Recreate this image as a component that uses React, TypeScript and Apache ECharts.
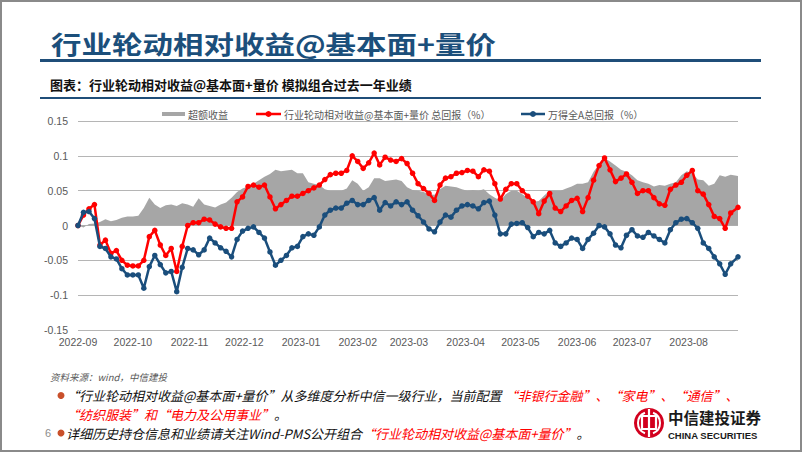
import React, { useEffect, useRef } from "react";
import * as echarts from "echarts";

// Sample dates (every third calendar day)
const dates = [
  "2022-09-01", "2022-09-04", "2022-09-07", "2022-09-10", "2022-09-13", "2022-09-16", "2022-09-19", "2022-09-22", "2022-09-25", "2022-09-28",
  "2022-10-01", "2022-10-04", "2022-10-07", "2022-10-10", "2022-10-13", "2022-10-16", "2022-10-19", "2022-10-22", "2022-10-25", "2022-10-28", "2022-10-31",
  "2022-11-03", "2022-11-06", "2022-11-09", "2022-11-12", "2022-11-15", "2022-11-18", "2022-11-21", "2022-11-24", "2022-11-27", "2022-11-30",
  "2022-12-03", "2022-12-06", "2022-12-09", "2022-12-12", "2022-12-15", "2022-12-18", "2022-12-21", "2022-12-24", "2022-12-27", "2022-12-30",
  "2023-01-02", "2023-01-05", "2023-01-08", "2023-01-11", "2023-01-14", "2023-01-17", "2023-01-20", "2023-01-23", "2023-01-26", "2023-01-29",
  "2023-02-01", "2023-02-04", "2023-02-07", "2023-02-10", "2023-02-13", "2023-02-16", "2023-02-19", "2023-02-22", "2023-02-25", "2023-02-28",
  "2023-03-03", "2023-03-06", "2023-03-09", "2023-03-12", "2023-03-15", "2023-03-18", "2023-03-21", "2023-03-24", "2023-03-27", "2023-03-30",
  "2023-04-02", "2023-04-05", "2023-04-08", "2023-04-11", "2023-04-14", "2023-04-17", "2023-04-20", "2023-04-23", "2023-04-26", "2023-04-29",
  "2023-05-02", "2023-05-05", "2023-05-08", "2023-05-11", "2023-05-14", "2023-05-17", "2023-05-20", "2023-05-23", "2023-05-26", "2023-05-29",
  "2023-06-01", "2023-06-04", "2023-06-07", "2023-06-10", "2023-06-13", "2023-06-16", "2023-06-19", "2023-06-22", "2023-06-25", "2023-06-28",
  "2023-07-01", "2023-07-04", "2023-07-07", "2023-07-10", "2023-07-13", "2023-07-16", "2023-07-19", "2023-07-22", "2023-07-25", "2023-07-28", "2023-07-31",
  "2023-08-03", "2023-08-06", "2023-08-09", "2023-08-12", "2023-08-15", "2023-08-18", "2023-08-21", "2023-08-24", "2023-08-28",
];

// 行业轮动相对收益@基本面+量价 总回报
const strategyReturn = [
  0.000, 0.015, 0.024, 0.030, -0.028, -0.021, -0.040, -0.036, -0.050, -0.057,
  -0.058, -0.058, -0.050, -0.016, -0.007, -0.028, -0.043, -0.033, -0.066, -0.030, 0.000,
  0.004, 0.004, 0.009, 0.008, 0.002, -0.002, -0.004, -0.004, 0.034, 0.041,
  0.056, 0.058, 0.055, 0.058, 0.041, 0.024, 0.030, 0.036, 0.042, 0.042,
  0.046, 0.050, 0.054, 0.058, 0.066, 0.073, 0.075, 0.075, 0.079, 0.100,
  0.092, 0.082, 0.090, 0.104, 0.087, 0.098, 0.094, 0.092, 0.096, 0.089,
  0.075, 0.060, 0.053, 0.046, 0.036, 0.058, 0.068, 0.070, 0.075, 0.076,
  0.079, 0.078, 0.070, 0.080, 0.078, 0.060, 0.038, 0.052, 0.060, 0.060,
  0.050, 0.042, 0.034, 0.017, 0.035, 0.046, 0.025, 0.020, 0.028, 0.036,
  0.039, 0.020, 0.040, 0.065, 0.086, 0.097, 0.080, 0.063, 0.068, 0.074,
  0.062, 0.046, 0.050, 0.050, 0.040, 0.031, 0.029, 0.052, 0.058, 0.062, 0.072,
  0.079, 0.050, 0.045, 0.030, 0.013, 0.010, -0.004, 0.018, 0.026,
];

// 万得全A总回报
const benchmarkReturn = [
  0.000, 0.019, 0.020, 0.010, -0.030, -0.033, -0.045, -0.048, -0.062, -0.071,
  -0.071, -0.071, -0.090, -0.059, -0.043, -0.056, -0.068, -0.066, -0.095, -0.060, -0.033,
  -0.035, -0.042, -0.035, -0.018, -0.025, -0.032, -0.037, -0.045, -0.020, -0.008,
  -0.004, -0.002, -0.010, -0.018, -0.038, -0.057, -0.050, -0.043, -0.032, -0.030,
  -0.016, -0.012, -0.014, -0.002, 0.015, 0.022, 0.025, 0.025, 0.032, 0.036,
  0.030, 0.030, 0.036, 0.040, 0.022, 0.033, 0.028, 0.034, 0.030, 0.034,
  0.022, 0.014, 0.005, -0.005, -0.009, 0.005, 0.015, 0.012, 0.022, 0.028,
  0.030, 0.028, 0.024, 0.033, 0.035, 0.015, -0.012, -0.012, 0.002, 0.003,
  0.004, -0.003, -0.016, -0.010, -0.012, -0.007, -0.025, -0.030, -0.025, -0.018,
  -0.020, -0.033, -0.020, -0.011, 0.000, -0.002, -0.012, -0.028, -0.032, -0.014,
  -0.006, -0.015, -0.017, -0.010, -0.015, -0.020, -0.025, -0.006, 0.004, 0.009, 0.010,
  0.004, -0.004, -0.025, -0.033, -0.045, -0.055, -0.070, -0.055, -0.045,
];

// 超额收益
const excessReturn = [
  0.000, -0.003, 0.002, 0.003, 0.005, 0.009, 0.006, 0.008, 0.011, 0.013,
  0.013, 0.014, 0.025, 0.040, 0.030, 0.025, 0.029, 0.030, 0.028, 0.032, 0.030,
  0.027, 0.039, 0.030, 0.028, 0.026, 0.030, 0.033, 0.040, 0.048, 0.053,
  0.056, 0.060, 0.065, 0.070, 0.074, 0.080, 0.078, 0.079, 0.080, 0.075,
  0.075, 0.062, 0.060, 0.058, 0.052, 0.050, 0.050, 0.050, 0.053, 0.065,
  0.060, 0.050, 0.055, 0.068, 0.068, 0.064, 0.065, 0.066, 0.064, 0.055,
  0.051, 0.050, 0.048, 0.045, 0.044, 0.052, 0.057, 0.056, 0.055, 0.052,
  0.050, 0.051, 0.050, 0.052, 0.045, 0.040, 0.036, 0.045, 0.050, 0.050,
  0.045, 0.040, 0.034, 0.035, 0.043, 0.050, 0.050, 0.050, 0.053, 0.056,
  0.060, 0.060, 0.062, 0.077, 0.088, 0.097, 0.092, 0.086, 0.080, 0.077,
  0.072, 0.065, 0.062, 0.060, 0.056, 0.058, 0.057, 0.060, 0.062, 0.072, 0.078,
  0.075, 0.066, 0.065, 0.057, 0.060, 0.072, 0.070, 0.073, 0.071,
];

const monthLabels = [
  "2022-09", "2022-10", "2022-11", "2022-12", "2023-01", "2023-02",
  "2023-03", "2023-04", "2023-05", "2023-06", "2023-07", "2023-08",
];

const seriesNames = ["超额收益", "行业轮动相对收益@基本面+量价 总回报（%）", "万得全A总回报（%）"];

const titleText = "行业轮动相对收益@基本面+量价";
const subtitleText = "图表：行业轮动相对收益@基本面+量价 模拟组合过去一年业绩";
const sourceText = "资料来源：wind，中信建投";

const toTime = (s: string) => {
  const p = s.split("-").map(Number);
  return new Date(p[0], p[1] - 1, p[2] || 1).getTime();
};
const pairs = (vals: number[]) => dates.map((d, i) => [toTime(d), vals[i]]);
const monthTimes = monthLabels.map(toTime);

const GRAY = "#a6a6a6";
const RED = "#ff0000";
const BLUE = "#1a4e7c";
const NAVY = "#1f4e79";
const LABEL = "#595959";
const CJK = '"Noto Sans CJK SC", sans-serif';
const LATIN = '"Liberation Sans", Arial, sans-serif';

export default function App() {
  const ref = useRef<HTMLDivElement>(null);
  useEffect(() => {
    if (!ref.current) return;
    const chart = echarts.init(ref.current, null, { renderer: "svg" });
    const fmtMonth = (v: number) => {
      let best = 0;
      monthTimes.forEach((t, i) => {
        if (Math.abs(t - v) < Math.abs(monthTimes[best] - v)) best = i;
      });
      return monthLabels[best];
    };
    const legendY = 114;
    const line1Y = 395.5;
    const line2Y = 414;
    const line3Y = 433;
    const richFooter = {
      k: { fill: "#111111", fontSize: 13, fontStyle: "italic", fontFamily: CJK, lineHeight: 15 },
      r: { fill: RED, fontSize: 13, fontStyle: "italic", fontFamily: CJK, lineHeight: 15 },
    };
    const option: any = {
      animation: false,
      grid: { left: 78, right: 64, top: 121, bottom: 122 },
      xAxis: {
        type: "value",
        min: toTime(dates[0]),
        max: toTime(dates[dates.length - 1]),
        axisLine: { show: false },
        axisTick: { show: false },
        splitLine: { show: false },
        axisLabel: {
          customValues: monthTimes,
          formatter: (v: number) => fmtMonth(v),
          color: LABEL,
          fontSize: 10.5,
          fontFamily: LATIN,
          margin: 6,
          hideOverlap: false,
          showMinLabel: true,
          showMaxLabel: true,
        },
      },
      yAxis: {
        type: "value",
        min: -0.15,
        max: 0.15,
        interval: 0.05,
        axisLine: { show: false },
        axisTick: { show: false },
        axisLabel: {
          formatter: (v: number) => String(Math.round(v * 100) / 100),
          color: LABEL,
          fontSize: 10.5,
          fontFamily: LATIN,
          margin: 10,
        },
        splitLine: { lineStyle: { color: "#b5b5b5", width: 1 } },
      },
      series: [
        {
          name: seriesNames[0],
          type: "line",
          data: pairs(excessReturn),
          symbol: "none",
          lineStyle: { width: 0 },
          itemStyle: { color: GRAY },
          areaStyle: { color: GRAY, opacity: 1 },
          z: 1,
        },
        {
          name: seriesNames[1],
          type: "line",
          data: pairs(strategyReturn),
          symbol: "circle",
          symbolSize: 5.5,
          showAllSymbol: true,
          lineStyle: { color: RED, width: 2.5 },
          itemStyle: { color: RED },
          z: 2,
        },
        {
          name: seriesNames[2],
          type: "line",
          data: pairs(benchmarkReturn),
          symbol: "circle",
          symbolSize: 5.5,
          showAllSymbol: true,
          lineStyle: { color: BLUE, width: 2.5 },
          itemStyle: { color: BLUE },
          z: 3,
        },
      ],
      graphic: [
        { type: "rect", silent: true, shape: { x: 1, y: 1, width: 800, height: 450 }, style: { fill: "none", stroke: "#8a8a8a", lineWidth: 2 } },
        {
          type: "text", silent: true, x: 51, y: 43, scaleX: 1.22,
          style: { text: titleText, fill: "#1b4f7b", fontSize: 25, fontWeight: "bold", fontFamily: CJK, verticalAlign: "middle" },
        },
        { type: "rect", silent: true, shape: { x: 40, y: 59, width: 721, height: 3 }, style: { fill: NAVY } },
        {
          type: "text", silent: true, x: 50, y: 84,
          style: { text: subtitleText, fill: "#111111", fontSize: 13, fontWeight: "bold", fontFamily: CJK, verticalAlign: "middle" },
        },
        { type: "rect", silent: true, shape: { x: 40, y: 97, width: 721, height: 2 }, style: { fill: NAVY } },
        { type: "rect", silent: true, shape: { x: 162, y: legendY - 2, width: 23, height: 4 }, style: { fill: GRAY } },
        { type: "text", silent: true, x: 188, y: legendY, style: { text: seriesNames[0], fill: LABEL, fontSize: 10, fontFamily: CJK, verticalAlign: "middle" } },
        { type: "line", silent: true, shape: { x1: 256, y1: legendY, x2: 281, y2: legendY }, style: { stroke: RED, lineWidth: 2.5 } },
        { type: "circle", silent: true, shape: { cx: 268.5, cy: legendY, r: 3 }, style: { fill: RED } },
        { type: "text", silent: true, x: 284, y: legendY, style: { text: seriesNames[1], fill: LABEL, fontSize: 10, fontFamily: CJK, verticalAlign: "middle" } },
        { type: "line", silent: true, shape: { x1: 521, y1: legendY, x2: 545, y2: legendY }, style: { stroke: BLUE, lineWidth: 2.5 } },
        { type: "circle", silent: true, shape: { cx: 533, cy: legendY, r: 3 }, style: { fill: BLUE } },
        { type: "text", silent: true, x: 548, y: legendY, style: { text: seriesNames[2], fill: LABEL, fontSize: 10, fontFamily: CJK, verticalAlign: "middle" } },
        {
          type: "text", silent: true, x: 50, y: 377,
          style: { text: sourceText, fill: LABEL, fontSize: 9.5, fontStyle: "italic", fontFamily: CJK, verticalAlign: "middle" },
        },
        { type: "circle", silent: true, shape: { cx: 61, cy: line1Y, r: 3.5 }, style: { fill: "#c9502b" } },
        {
          type: "text", silent: true, x: 66, y: line1Y,
          style: {
            text: "{k|“行业轮动相对收益@基本面+量价”从多维度分析中信一级行业，当前配置 }{r|“非银行金融”、“家电”、“通信”、}",
            fontSize: 13, fontStyle: "italic", fontFamily: CJK, verticalAlign: "middle", lineHeight: 15, rich: richFooter,
          },
        },
        {
          type: "text", silent: true, x: 66, y: line2Y,
          style: {
            text: "{r|“纺织服装”和“电力及公用事业”}{k|。}",
            fontSize: 13, fontStyle: "italic", fontFamily: CJK, verticalAlign: "middle", lineHeight: 15, rich: richFooter,
          },
        },
        { type: "text", silent: true, x: 45, y: line3Y, style: { text: "6", fill: "#8c8c8c", fontSize: 11, fontFamily: LATIN, verticalAlign: "middle" } },
        { type: "circle", silent: true, shape: { cx: 61, cy: line3Y, r: 3.5 }, style: { fill: "#c9502b" } },
        {
          type: "text", silent: true, x: 66, y: line3Y,
          style: {
            text: "{k|详细历史持仓信息和业绩请关注Wind-PMS公开组合}{r|“行业轮动相对收益@基本面+量价”}{k|。}",
            fontSize: 13, fontStyle: "italic", fontFamily: CJK, verticalAlign: "middle", lineHeight: 15, rich: richFooter,
          },
        },
        { type: "circle", silent: true, shape: { cx: 649, cy: 423, r: 15 }, style: { fill: "#d2001e" } },
        { type: "rect", silent: true, shape: { x: 642, y: 416, width: 14, height: 13 }, style: { fill: "none", stroke: "#ffffff", lineWidth: 2.2 } },
        { type: "line", silent: true, shape: { x1: 649, y1: 409, x2: 649, y2: 437 }, style: { stroke: "#ffffff", lineWidth: 2.2 } },
        { type: "arc", silent: true, shape: { cx: 649, cy: 423, r: 11, startAngle: Math.PI * 0.62, endAngle: Math.PI * 1.38 }, style: { stroke: "#ffffff", lineWidth: 2, fill: "none" } },
        { type: "arc", silent: true, shape: { cx: 649, cy: 423, r: 11, startAngle: -Math.PI * 0.38, endAngle: Math.PI * 0.38 }, style: { stroke: "#ffffff", lineWidth: 2, fill: "none" } },
        { type: "text", silent: true, x: 668, y: 417, style: { text: "中信建投证券", fill: "#1a1a1a", fontSize: 15.5, fontWeight: "bold", fontFamily: CJK, verticalAlign: "middle" } },
        { type: "text", silent: true, x: 668, y: 435, style: { text: "CHINA SECURITIES", fill: "#1a1a1a", fontSize: 9.5, fontWeight: "bold", fontFamily: LATIN, verticalAlign: "middle" } },
      ],
    };
    chart.setOption(option);
    return () => chart.dispose();
  }, []);
  return (
    <div
      ref={ref}
      style={{ position: "fixed", left: 0, top: 0, width: 802, height: 452, background: "#ffffff" }}
    />
  );
}
